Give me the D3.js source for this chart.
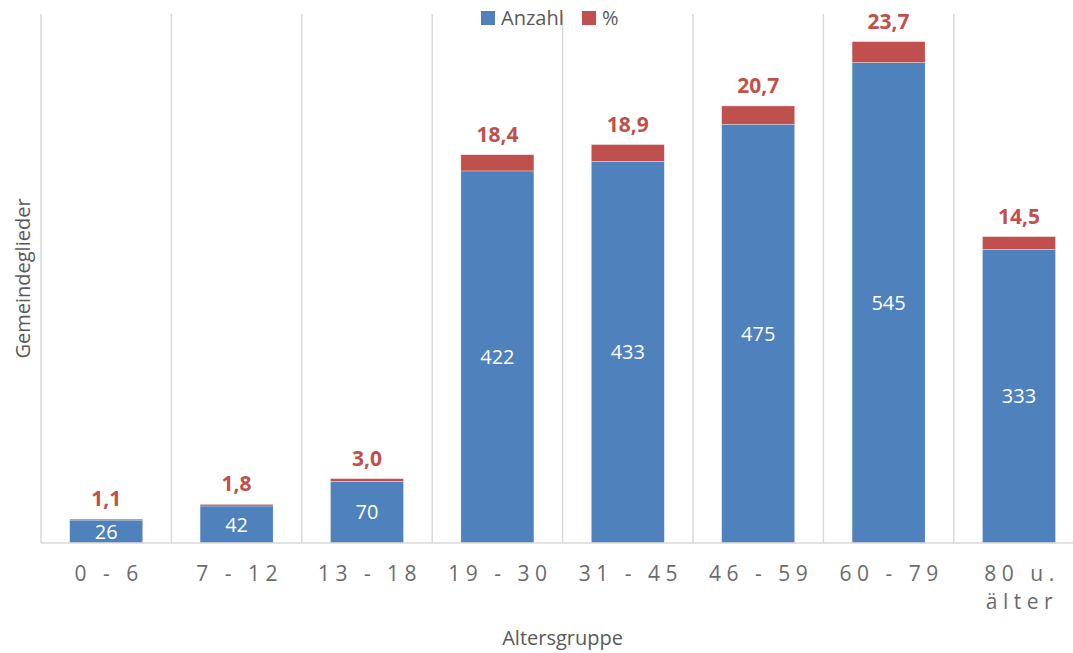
<!DOCTYPE html>
<html>
<head>
<meta charset="utf-8">
<script src="https://cdn.jsdelivr.net/npm/d3@7"></script>
<style>
body { margin: 0; background: #fff; }
text { font-family: "Open Sans", sans-serif; }
</style>
</head>
<body>
<div id="canvas"></div>
<script>
// ----------------------------------------------------------
// DATA -----------------------------------------------------
// ----------------------------------------------------------
var categories = ["0 - 6", "7 - 12", "13 - 18", "19 - 30", "31 - 45", "46 - 59", "60 - 79", "80 u.\nälter"];
var anzahl = [26, 42, 70, 422, 433, 475, 545, 333];
var prozent = [1.1, 1.8, 3.0, 18.4, 18.9, 20.7, 23.7, 14.5];
var seriesNames = ["Anzahl", "%"];
var yDomain = [0, 600];

// ----------------------------------------------------------
// LAYOUT ---------------------------------------------------
// ----------------------------------------------------------
var W = 1073, H = 653;
var plot = { left: 41, right: 1084.2, top: 14, bottom: 543 };
var color_blue = "#4f81bd", color_red = "#c0504d";
var color_grid = "#d9d9d9", color_text = "#595959";

var svg = d3.select("#canvas").append("svg")
.attr("width", W)
.attr("height", H);

// table for the stack
var rows = categories.map(function(c, i) {
return { cat: c, "Anzahl": anzahl[i], "%": prozent[i] };
});
var stacked = d3.stack().keys(seriesNames)(rows);

// ----------------------------------------------------------
// SCALES ---------------------------------------------------
// ----------------------------------------------------------
var x = d3.scaleBand()
.domain(categories)
.range([plot.left, plot.right])
.paddingInner(0.44)
.paddingOuter(0.22);
var xGrid = d3.scaleBand()
.domain(categories)
.range([plot.left, plot.right])
.padding(0);
var y = d3.scaleLinear()
.domain(yDomain)
.range([plot.bottom, plot.top]);

// ----------------------------------------------------------
// GRID -----------------------------------------------------
// ----------------------------------------------------------
var gridX = categories.map(function(c) { return xGrid(c); }).concat([plot.right]);
svg.append("g").selectAll("line")
.data(gridX)
.enter().append("line")
.attr("x1", function(d) { return d; })
.attr("x2", function(d) { return d; })
.attr("y1", y(yDomain[1]))
.attr("y2", y(0))
.style("stroke", color_grid).style("stroke-width", 1.5);

// ----------------------------------------------------------
// BARS -----------------------------------------------------
// ----------------------------------------------------------
var colors = [color_blue, color_red];
var layers = svg.append("g").selectAll("g")
.data(stacked)
.enter().append("g")
.style("fill", function(d, i) { return colors[i]; });
layers.selectAll("rect")
.data(function(d) { return d; })
.enter().append("rect")
.attr("x", function(d) { return x(d.data.cat); })
.attr("width", x.bandwidth())
.attr("y", function(d) { return y(d[1]); })
.attr("height", function(d) { return y(d[0]) - y(d[1]); })
.style("stroke", "#fff").style("stroke-width", 0.5).style("stroke-opacity", 0.6);

// baseline
svg.append("line")
.attr("x1", plot.left).attr("x2", plot.right)
.attr("y1", y(0)).attr("y2", y(0))
.style("stroke", color_grid).style("stroke-width", 1.5);

// value labels inside blue
svg.append("g").selectAll("text")
.data(stacked[0])
.enter().append("text")
.attr("x", function(d) { return x(d.data.cat) + x.bandwidth() / 2; })
.attr("y", function(d) { return (y(d[0]) + y(d[1])) / 2; })
.attr("dy", "0.36em")
.attr("text-anchor", "middle")
.style("font-size", "20px")
.style("fill", "#fff")
.text(function(d) { return d.data["Anzahl"]; });

// percent labels above stack
svg.append("g").selectAll("text")
.data(stacked[1])
.enter().append("text")
.attr("x", function(d) { return x(d.data.cat) + x.bandwidth() / 2; })
.attr("y", function(d) { return y(d[1]) - 13; })
.attr("text-anchor", "middle")
.style("font-size", "21px")
.style("font-weight", "bold")
.style("fill", color_red)
.text(function(d) { return d.data["%"].toFixed(1).replace(".", ","); });

// ----------------------------------------------------------
// AXIS -----------------------------------------------------
// ----------------------------------------------------------
var xAxis = d3.axisBottom(x).tickSize(0);
svg.append("g")
.attr("transform", "translate(0," + y(0) + ")")
.call(customXAxis);
function customXAxis(g) {
g.call(xAxis);
g.select(".domain").remove();
g.selectAll(".tick text").each(function(d) {
var t = d3.select(this);
var lines = d.split("\n");
t.text(null)
.attr("y", 38).attr("dy", 0)
.style("font-family", "'Open Sans', sans-serif")
.style("font-size", "21px")
.style("font-weight", 400)
.style("letter-spacing", "5.5px")
.style("fill", "#6b6b6b");
lines.forEach(function(l, i) {
t.append("tspan")
.attr("x", 3)
.attr("dy", i === 0 ? 0 : 28)
.text(l);
});
});
}

// axis titles
svg.append("text")
.attr("x", (plot.left + plot.right) / 2)
.attr("y", 645)
.attr("text-anchor", "middle")
.style("font-size", "20px")
.style("fill", color_text)
.text("Altersgruppe");
svg.append("text")
.attr("transform", "translate(30," + (plot.top + plot.bottom) / 2 + ") rotate(-90)")
.attr("text-anchor", "middle")
.style("font-size", "20px")
.style("fill", color_text)
.text("Gemeindeglieder");

// ----------------------------------------------------------
// LEGEND ---------------------------------------------------
// ----------------------------------------------------------
var legendX = [481, 582];
var legend = svg.append("g").selectAll("g")
.data(seriesNames)
.enter().append("g")
.attr("transform", function(d, i) { return "translate(" + legendX[i] + ",11)"; });
legend.append("rect")
.attr("width", 14).attr("height", 14)
.style("fill", function(d, i) { return colors[i]; });
legend.append("text")
.attr("x", 20).attr("y", 14)
.style("font-size", "20px")
.style("fill", color_text)
.text(function(d) { return d; });
</script>
</body>
</html>
